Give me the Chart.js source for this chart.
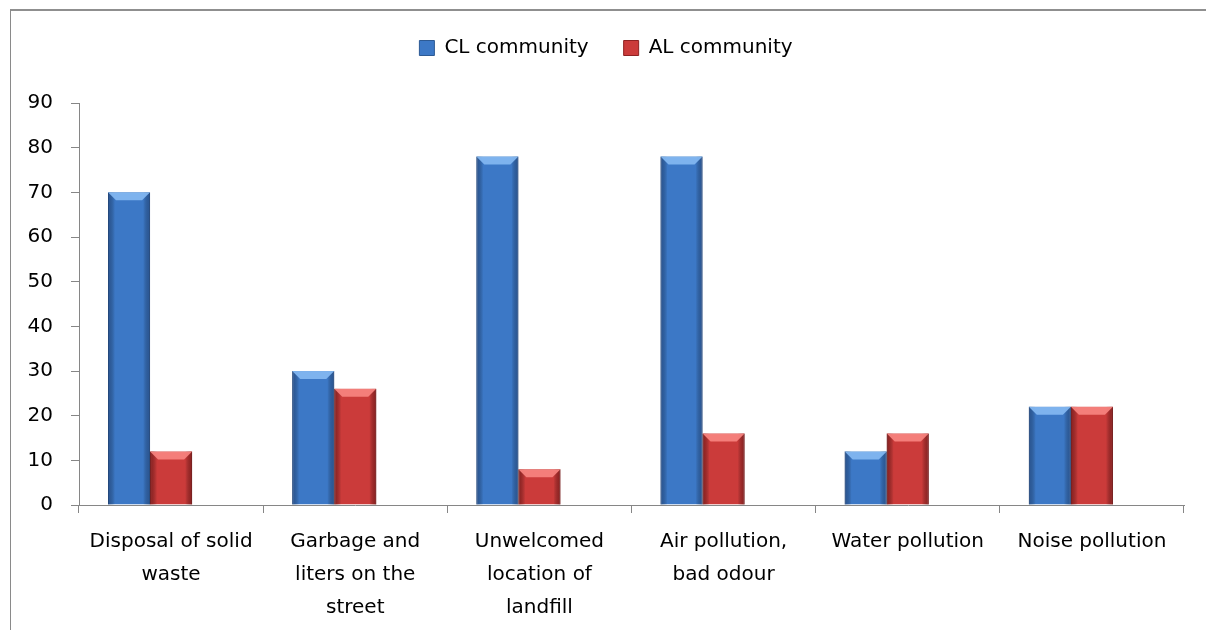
<!DOCTYPE html>
<html>
<head>
<meta charset="utf-8">
<script src="https://cdn.jsdelivr.net/npm/chart.js@4.4.1/dist/chart.umd.min.js"></script>
<style>
  html, body { margin: 0; padding: 0; background: #fff; overflow: hidden; }
  #frame { position: absolute; left: 10px; top: 9px; width: 1300px; height: 700px; border-left: 1px solid #8a8a8a; border-top: 2px solid #8f8f8f; }
  #wrap { position: absolute; left: 0; top: 0; width: 1206px; height: 630px; }
</style>
</head>
<body>
<div id="frame"></div>
<div id="wrap"><canvas id="myChart" width="1206" height="630"></canvas></div>
<script>
// categories and values
var categories = [
    ["Disposal of solid", "waste"],
    ["Garbage and", "liters on the", "street"],
    ["Unwelcomed", "location of", "landfill"],
    ["Air pollution,", "bad odour"],
    "Water pollution",
    "Noise pollution"
];
var clValues = [70, 30, 78, 78, 12, 22];
var alValues = [12, 26, 8, 16, 16, 22];
var yTicks = [0, 10, 20, 30, 40, 50, 60, 70, 80, 90];

var FONT = 'DejaVu Sans';

// little bevel shading on top of the bars, like the Excel style
var bevelPlugin = {
    id: 'bevel',
    afterDatasetsDraw: function (chart) {
        var ctx = chart.ctx;
        var shades = [
            { light: 'rgba(130,182,240,0.95)', dark: 'rgba(30,60,110,0.55)' },
            { light: 'rgba(245,130,125,0.95)', dark: 'rgba(100,15,15,0.6)' }
        ];
        chart.data.datasets.forEach(function (ds, i) {
            var s = shades[i];
            if (!s) return;
            var meta = chart.getDatasetMeta(i);
            meta.data.forEach(function (bar) {
                var l = bar.x - bar.width / 2, r = bar.x + bar.width / 2;
                var t = bar.y, b = bar.base;
                var e = Math.min(8, (b - t) / 2);
                ctx.save();
                // left edge
                var g = ctx.createLinearGradient(l, 0, l + 7, 0);
                g.addColorStop(0, s.dark);
                g.addColorStop(1, 'rgba(0,0,0,0)');
                ctx.fillStyle = g;
                ctx.fillRect(l, t, 7, b - t);
                // right edge
                g = ctx.createLinearGradient(r - 7, 0, r, 0);
                g.addColorStop(0, 'rgba(0,0,0,0)');
                g.addColorStop(1, s.dark);
                ctx.fillStyle = g;
                ctx.fillRect(r - 7, t, 7, b - t);
                // top bevel
                ctx.fillStyle = s.light;
                ctx.beginPath();
                ctx.moveTo(l, t);
                ctx.lineTo(r, t);
                ctx.lineTo(r - e, t + e);
                ctx.lineTo(l + e, t + e);
                ctx.closePath();
                ctx.fill();
                ctx.restore();
            });
        });
    }
};

// push the plot down below the legend
var legendSpace = {
    id: 'legendSpace',
    beforeInit: function (chart) {
        var fit = chart.legend.fit;
        chart.legend.fit = function () {
            fit.bind(chart.legend)();
            this.height = 100;
        };
    }
};

var ctx = document.getElementById('myChart').getContext('2d');
var chart = new Chart(ctx, {
    type: 'bar',
    data: {
        labels: categories,
        datasets: [{
            label: "CL community",
            backgroundColor: '#3c78c6',
            borderColor: '#2d5a94',
            borderWidth: 1,
            data: clValues
        }, {
            label: "AL community",
            backgroundColor: '#cb3b3a',
            borderColor: '#8e2222',
            borderWidth: 1,
            data: alValues
        }, {
            // empty third series, it keeps the free slot right of each pair
            label: "",
            data: []
        }]
    },
    options: {
        responsive: false,
        animation: false,
        layout: { padding: { left: 28, right: 22, top: 3, bottom: 8 } },
        datasets: { bar: { categoryPercentage: 0.685, barPercentage: 1 } },
        plugins: {
            tooltip: { enabled: false },
            legend: {
                position: 'top',
                labels: {
                    boxWidth: 15,
                    boxHeight: 15,
                    padding: 35,
                    color: '#000',
                    font: { family: FONT, size: 20 },
                    filter: function (item) { return item.text !== ""; }
                }
            }
        },
        scales: {
            x: {
                afterFit: function (axis) { axis.paddingLeft = 0; axis.paddingRight = 0; axis.height = 117; },
                grid: { offset: true, drawOnChartArea: false, drawTicks: true, tickLength: 8, color: '#868686' },
                border: { color: '#868686' },
                ticks: {
                    autoSkip: false, maxRotation: 0, minRotation: 0, padding: 12,
                    color: '#000',
                    font: { family: FONT, size: 20, lineHeight: 1.65 }
                }
            },
            y: {
                min: 0, max: 90,
                afterBuildTicks: function (axis) { axis.ticks = yTicks.map(function (v) { return { value: v }; }); },
                afterFit: function (axis) { axis.width = 51; },
                grid: { drawOnChartArea: false, drawTicks: true, tickLength: 8, color: '#868686' },
                border: { color: '#868686' },
                ticks: { padding: 18, color: '#000', font: { family: FONT, size: 20 } }
            }
        }
    },
    plugins: [bevelPlugin, legendSpace]
});
</script>
</body>
</html>
